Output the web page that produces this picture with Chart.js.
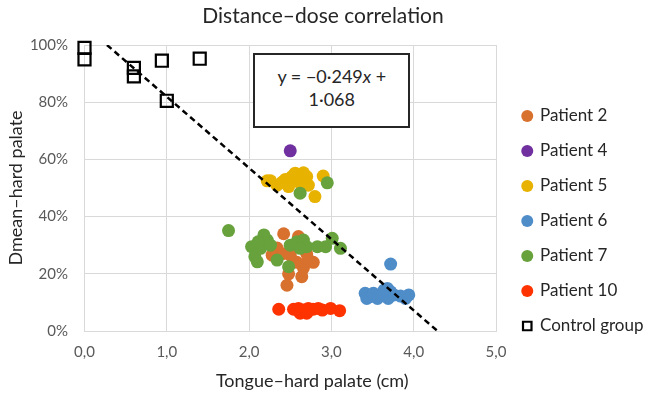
<!DOCTYPE html>
<html lang="en">
<head>
    <meta charset="UTF-8">
    <title>Distance–dose correlation</title>
    <script src="https://cdn.jsdelivr.net/npm/chart.js"></script>
    <style>
        body { margin: 0; background: #fff; }
        #wrap { position: relative; width: 649px; height: 394px; }
        #eq {
            position: absolute;
            box-sizing: border-box;
            border: 2px solid #262626;
            background: #fff;
            font-family: Lato, sans-serif;
            font-size: 18px;
            line-height: 23px;
            color: #262626;
            text-align: center;
            padding-top: 10px;
        }
    </style>
</head>
<body>
<div id="wrap">
    <canvas id="graph"></canvas>
    <div id="eq">y = &minus;0&middot;249<i>x</i> +<br>1&middot;068</div>
</div>

<script>
    // data
    const controlX = [0.0, 0.0, 0.60, 0.60, 0.94, 1.40, 1.00];
    const controlY = [0.99, 0.95, 0.92, 0.89, 0.945, 0.952, 0.805];

    const p2X = [2.34, 2.42, 2.60, 2.28, 2.40, 2.50, 2.58, 2.66, 2.78, 2.64, 2.46, 2.48, 2.70, 2.56, 2.72];
    const p2Y = [0.29, 0.34, 0.33, 0.265, 0.27, 0.265, 0.24, 0.22, 0.24, 0.19, 0.16, 0.20, 0.27, 0.30, 0.25];

    const p4X = [2.5];
    const p4Y = [0.63];

    const p5X = [2.22, 2.26, 2.34, 2.40, 2.44, 2.48, 2.52, 2.56, 2.62, 2.66, 2.70, 2.72, 2.80, 2.90];
    const p5Y = [0.525, 0.525, 0.51, 0.52, 0.53, 0.505, 0.54, 0.552, 0.517, 0.553, 0.54, 0.51, 0.47, 0.542];

    const p6X = [3.72, 3.41, 3.43, 3.47, 3.51, 3.56, 3.59, 3.64, 3.68, 3.69, 3.72, 3.76, 3.84, 3.90, 3.94];
    const p6Y = [0.234, 0.132, 0.114, 0.12, 0.132, 0.114, 0.126, 0.143, 0.149, 0.114, 0.137, 0.126, 0.122, 0.114, 0.126];

    const p7X = [1.75, 2.03, 2.07, 2.10, 2.14, 2.18, 2.22, 2.26, 2.11, 2.34, 2.48, 2.50, 2.58, 2.66, 2.70, 2.83, 2.93, 3.01, 3.11, 2.62, 2.62, 2.95];
    const p7Y = [0.351, 0.295, 0.26, 0.242, 0.289, 0.336, 0.318, 0.30, 0.312, 0.248, 0.225, 0.30, 0.312, 0.318, 0.295, 0.295, 0.295, 0.324, 0.289, 0.289, 0.482, 0.518];

    const p10X = [2.36, 2.54, 2.60, 2.66, 2.72, 2.78, 2.84, 2.89, 2.99, 3.10, 2.62, 2.70];
    const p10Y = [0.076, 0.076, 0.079, 0.073, 0.079, 0.076, 0.079, 0.073, 0.079, 0.071, 0.062, 0.062];

    // trend line y = -0.249x + 1.068, drawn between y = 100% and y = 0%
    const slope = -0.249;
    const intercept = 1.068;
    const trendY = [1, 0];

    const xTicks = [0, 1, 2, 3, 4, 5];
    const yTicks = [0, 0.2, 0.4, 0.6, 0.8, 1.0];

    function pts(xs, ys) {
        return xs.map((x, i) => ({ x: x, y: ys[i] }));
    }

    const font = 'Lato, sans-serif';

    function patient(label, xs, ys, color, order) {
        return {
            label: label,
            data: pts(xs, ys),
            backgroundColor: color,
            borderColor: color,
            borderWidth: 0,
            pointRadius: 6.5,
            pointHoverRadius: 6.5,
            order: order
        };
    }

    // equation box sits on the plot, placed with the scales
    const eqPlugin = {
        id: 'eqbox',
        afterDraw(chart) {
            const x = chart.scales.x, y = chart.scales.y;
            const box = document.getElementById('eq');
            const l = x.getPixelForValue(2.05), r = x.getPixelForValue(3.96);
            const t = y.getPixelForValue(0.973), b = y.getPixelForValue(0.71);
            box.style.left = l + 'px';
            box.style.top = t + 'px';
            box.style.width = (r - l) + 'px';
            box.style.height = (b - t) + 'px';
        }
    };

    // nudge the legend and the x title to where the original has them
    const nudge = {
        id: 'nudge',
        afterLayout(chart) {
            const lg = chart.legend;
            const w = lg.right - lg.left;
            lg.left = chart.chartArea.right + 9;
            lg.right = lg.left + w;
            lg.top += 25;
            lg.bottom += 25;

            const sx = chart.scales.x;
            if (!sx._nudged) {
                const orig = sx.drawTitle.bind(sx);
                sx.drawTitle = function () {
                    this.ctx.save();
                    this.ctx.translate(22, 0);
                    orig();
                    this.ctx.restore();
                };
                sx._nudged = true;
            }
        }
    };

    const ctx = document.getElementById('graph').getContext('2d');
    new Chart(ctx, {
        type: 'scatter',
        data: {
            datasets: [
                patient('Patient 2', p2X, p2Y, '#D9712E', 7),
                patient('Patient 4', p4X, p4Y, '#7030A0', 6),
                patient('Patient 5', p5X, p5Y, '#E8B200', 5),
                patient('Patient 6', p6X, p6Y, '#4F8DC9', 4),
                patient('Patient 7', p7X, p7Y, '#67A23D', 3),
                patient('Patient 10', p10X, p10Y, '#FF3300', 2),
                {
                    label: 'Control group',
                    data: pts(controlX, controlY),
                    pointStyle: 'rect',
                    pointRadius: 8.5,
                    pointHoverRadius: 8.5,
                    backgroundColor: 'rgba(255,255,255,0)',
                    borderColor: '#000',
                    borderWidth: 2.2,
                    clip: false,
                    order: 1
                },
                {
                    label: 'trend',
                    data: trendY.map(v => ({ x: (v - intercept) / slope, y: v })),
                    showLine: true,
                    pointRadius: 0,
                    borderColor: '#000',
                    borderWidth: 2.5,
                    borderDash: [6, 4],
                    order: 0
                }
            ]
        },
        options: {
            responsive: true,
            maintainAspectRatio: false,
            animation: false,
            layout: { padding: { left: 2, right: 5, top: 0, bottom: 2 } },
            plugins: {
                title: {
                    display: true,
                    text: 'Distance–dose correlation',
                    color: '#262626',
                    font: { family: font, size: 21, weight: 'normal' },
                    padding: { top: 4, bottom: 15.8 }
                },
                legend: {
                    position: 'right',
                    maxWidth: 148,
                    labels: {
                        filter: item => item.text !== 'trend',
                        sort: (a, b) => a.datasetIndex - b.datasetIndex,
                        usePointStyle: true,
                        boxHeight: 8.5,
                        boxWidth: 8.5,
                        padding: 18,
                        color: '#262626',
                        font: { family: font, size: 17 }
                    }
                },
                tooltip: { enabled: false }
            },
            scales: {
                x: {
                    type: 'linear',
                    min: 0,
                    max: 5,
                    afterBuildTicks: s => { s.ticks = xTicks.map(v => ({ value: v })); },
                    afterFit: s => { s.height = 61; },
                    ticks: {
                        color: '#595959',
                        font: { family: font, size: 15 },
                        padding: 12,
                        callback: v => v.toFixed(1).replace('.', ',')
                    },
                    grid: { color: '#d9d9d9', drawTicks: false },
                    border: { color: '#d9d9d9' },
                    title: {
                        display: true,
                        text: 'Tongue–hard palate (cm)',
                        color: '#262626',
                        font: { family: font, size: 18 },
                        padding: { top: 4, bottom: 0 }
                    }
                },
                y: {
                    min: 0,
                    max: 1,
                    afterBuildTicks: s => { s.ticks = yTicks.map(v => ({ value: v })); },
                    afterFit: s => { s.width = 82.5; },
                    ticks: {
                        color: '#595959',
                        font: { family: font, size: 15 },
                        padding: 16.5,
                        callback: v => Math.round(v * 100) + '%'
                    },
                    grid: { color: '#d9d9d9', drawTicks: false },
                    border: { color: '#d9d9d9' },
                    title: {
                        display: true,
                        text: 'Dmean–hard palate',
                        color: '#262626',
                        font: { family: font, size: 18 },
                        padding: { top: 3, bottom: 4 }
                    }
                }
            }
        },
        plugins: [eqPlugin, nudge]
    });
</script>
</body>
</html>
